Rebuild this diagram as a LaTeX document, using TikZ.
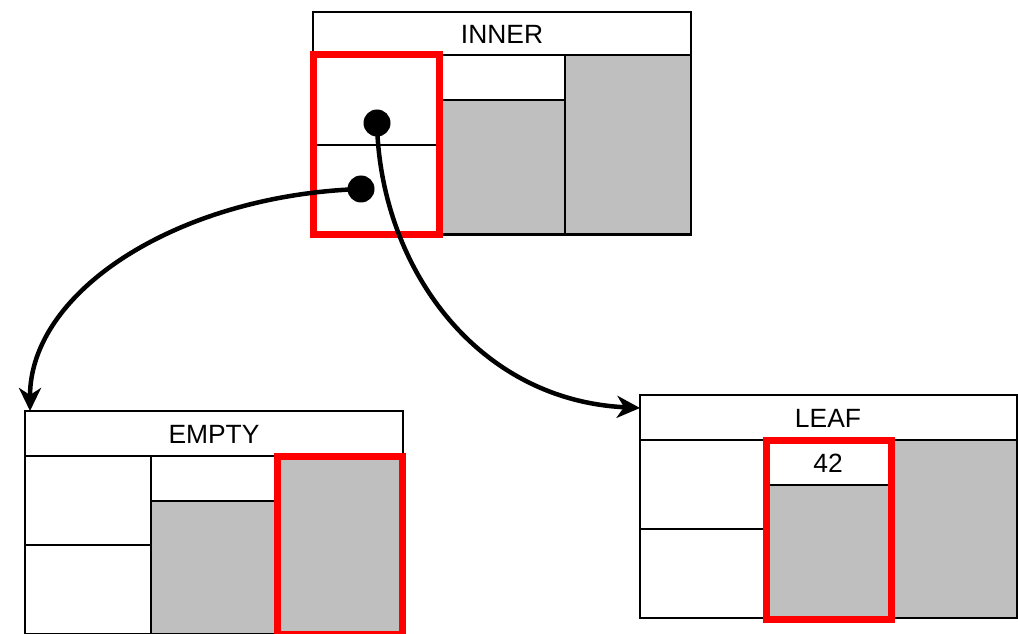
\documentclass[tikz,border=0pt]{standalone}
\usepackage{fontspec}
\setmainfont{Liberation Sans}
\usetikzlibrary{arrows.meta}
\definecolor{cellgray}{HTML}{BFBFBF}
\tikzset{
  cell/.style={draw=black, line width=2.2bp, fill=white},
  graycell/.style={draw=black, line width=2.2bp, fill=cellgray},
  hilite/.style={draw=red, line width=7bp},
  lbl/.style={font=\fontsize{26.5}{30}\selectfont, inner sep=0pt},
  dot/.style={circle, fill=black, inner sep=0pt, minimum size=27bp},
  conn/.style={line width=4.5bp, -{Stealth[length=23bp,width=22bp,inset=7bp]}},
}
\begin{document}
\begin{tikzpicture}[x=1bp,y=-1bp]
\useasboundingbox (0,0) rectangle (1018,634);
\clip (0,0) rectangle (1018,634);
% ---------- INNER ----------
\draw[cell] (313,12) rectangle (691,55);
\node[lbl] (innerlbl) at (502,34) {INNER};
\draw[cell] (313,55) rectangle (439,145);
\draw[cell] (313,145) rectangle (439,234.5);
\draw[cell] (439,55) rectangle (565,100);
\draw[graycell] (439,100) rectangle (565,234.5);
\draw[graycell] (565,55) rectangle (691,234.5);
\draw[hilite] (313,55) rectangle (439,235);
% ---------- EMPTY ----------
\draw[cell] (25,411) rectangle (403,456);
\node[lbl] (emptylbl) at (214,434) {EMPTY};
\coordinate (emptyin) at (30,411);
\draw[cell] (25,456) rectangle (151,545);
\draw[cell] (25,545) rectangle (151,634);
\draw[cell] (151,456) rectangle (277,501);
\draw[graycell] (151,501) rectangle (277,634);
\draw[graycell] (277,456) rectangle (403,634);
\draw[hilite] (277.5,456) rectangle (402.5,634);
% ---------- LEAF ----------
\draw[cell] (640,395) rectangle (1017,440);
\node[lbl] (leaflbl) at (828,418) {LEAF};
\coordinate (leafin) at (640,408);
\draw[cell] (640,440) rectangle (766,529);
\draw[cell] (640,529) rectangle (766,618);
\draw[cell] (766,440) rectangle (891,485);
\node[lbl] (val) at (828,463) {42};
\draw[graycell] (766,485) rectangle (891,618);
\draw[graycell] (891,440) rectangle (1017,618);
\draw[hilite] (766,440) rectangle (891,619);
% ---------- pointers ----------
\node[dot] (p1) at (377,123) {};
\node[dot] (p2) at (361,189) {};
\draw[conn] (p2.center) .. controls (180,195) and (30,290) .. (emptyin);
\draw[conn] (p1.center) .. controls (380,265) and (475,400) .. (leafin);
\end{tikzpicture}
\end{document}
